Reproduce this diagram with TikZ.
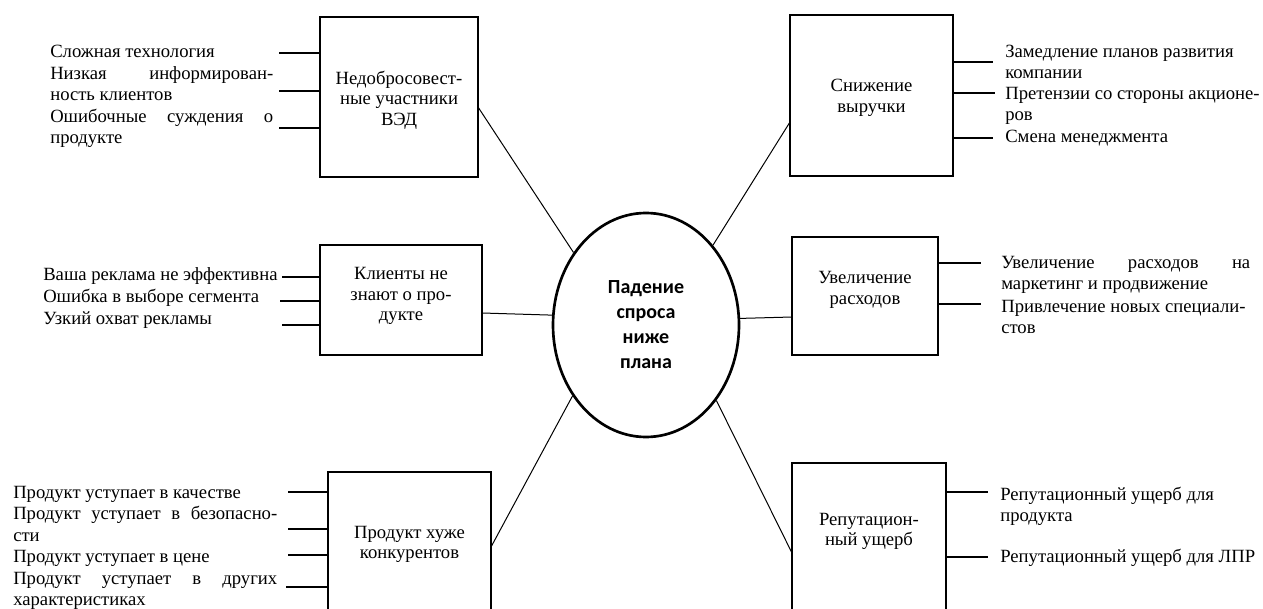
\documentclass[tikz,border=0pt]{standalone}
\usepackage{fontspec}
\setmainfont{Liberation Serif}
\newfontfamily\calib{Carlito}
\usetikzlibrary{shapes.geometric,calc}
\newlength\pxu \setlength\pxu{0.75pt}
\newcommand{\J}[2]{\makebox[#1\pxu][s]{#2}}
\newcommand{\fl}{\rule{0pt}{11pt}}
\newcommand{\boxlbl}[4]{\begin{minipage}[c][#2\pxu][t]{#1\pxu}\centering\vspace*{\dimexpr#3\pxu-10pt\relax}\baselineskip=20.5\pxu\rule{0pt}{10pt}#4\end{minipage}}
\tikzset{
  boxnode/.style={draw, line width=0.9pt, inner sep=0pt, outer sep=0pt},
  itemtext/.style={anchor=north west, inner sep=0pt, align=left},
  stub/.style={line width=0.9pt},
  link/.style={line width=0.75pt}
}
\begin{document}
\begin{tikzpicture}[x=0.75pt, y=-0.75pt, font=\fontsize{14}{16}\selectfont]
\useasboundingbox (0,0) rectangle (1263,609);
\clip (0,0) rectangle (1263,609);

% centre
\node[ellipse, draw, line width=2pt, minimum width=186\pxu, minimum height=224\pxu, inner sep=0pt, align=center,
      font=\calib\bfseries\fontsize{15}{18.75}\selectfont] (ell) at (646,325) {Падение\\спроса\\ниже\\плана};

% boxes
\node[boxnode] (b1) at (399,97) {\boxlbl{158}{160}{67}{Недобросовест-\\ные участники\\ВЭД}};
\node[boxnode] (b2) at (401,300) {\boxlbl{162}{110}{35}{Клиенты не\\знают о про-\\дукте}};
\node[boxnode] (b3) at (409.5,547) {\boxlbl{163}{150}{66}{Продукт хуже\\конкурентов}};
\node[boxnode] (b4) at (871.5,95.5) {\boxlbl{163}{161}{77}{Снижение\\выручки}};
\node[boxnode] (b5) at (865,296) {\boxlbl{146}{118}{47}{Увеличение\\расходов}};
\node[boxnode] (b6) at (869,541.5) {\boxlbl{154}{157}{62}{Репутацион-\\ный ущерб}};

% links to centre
\draw[link] ($(b1.east)+(0,10)$) -- (ell.135.4);
\draw[link] ($(b2.east)+(0,13)$) -- (ell.174);
\draw[link] ($(b3.east)+(0,0)$) -- (ell.224.3);
\draw[link] ($(b4.west)+(0,26.5)$) -- (ell.50.7);
\draw[link] ($(b5.west)+(0,21)$) -- (ell.4.3);
\draw[link] ($(b6.west)+(0,11.5)$) -- (ell.313.5);

% left top items
\node[itemtext] (i11) at (50,42.3) {\fl Сложная технология};
\node[itemtext] (i12) at (50,64.3) {\fl\J{223}{Низкая информирован-}\\ность клиентов};
\node[itemtext] (i13) at (50,107.3) {\fl\J{223}{Ошибочные суждения о}\\продукте};
\coordinate (s11) at (279,53);
\coordinate (s12) at (279,91);
\coordinate (s13) at (279,128);
\draw[stub] (s11) -- (s11 -| b1.west);
\draw[stub] (s12) -- (s12 -| b1.west);
\draw[stub] (s13) -- (s13 -| b1.west);

% left middle items
\node[itemtext] (i21) at (43,265.3) {\fl Ваша реклама не эффективна};
\node[itemtext] (i22) at (43,287.3) {\fl Ошибка в выборе сегмента};
\node[itemtext] (i23) at (43,309.3) {\fl Узкий охват рекламы};
\coordinate (s21) at (282,277);
\coordinate (s22) at (280,301);
\coordinate (s23) at (282,325);
\draw[stub] (s21) -- (s21 -| b2.west);
\draw[stub] (s22) -- (s22 -| b2.west);
\draw[stub] (s23) -- (s23 -| b2.west);

% left bottom items
\node[itemtext] (i31) at (13,483.3) {\fl Продукт уступает в качестве};
\node[itemtext] (i32) at (13,504.8) {\fl\J{264}{Продукт уступает в безопасно-}\\сти};
\node[itemtext] (i33) at (13,547.3) {\fl Продукт уступает в цене};
\node[itemtext] (i34) at (13,569.3) {\fl\J{264}{Продукт уступает в других}\\характеристиках};
\coordinate (s31) at (288,492);
\coordinate (s32) at (288,529);
\coordinate (s33) at (288,555);
\coordinate (s34) at (286,587);
\draw[stub] (s31) -- (s31 -| b3.west);
\draw[stub] (s32) -- (s32 -| b3.west);
\draw[stub] (s33) -- (s33 -| b3.west);
\draw[stub] (s34) -- (s34 -| b3.west);

% right top items
\node[itemtext] (i41) at (1005,42.3) {\fl Замедление планов развития\\компании};
\node[itemtext] (i42) at (1005,84.3) {\fl Претензии со стороны акционе-\\ров};
\node[itemtext] (i43) at (1005,127.3) {\fl Смена менеджмента};
\coordinate (s41) at (993,62);
\coordinate (s42) at (995,93);
\coordinate (s43) at (993,138);
\draw[stub] (s41 -| b4.east) -- (s41);
\draw[stub] (s42 -| b4.east) -- (s42);
\draw[stub] (s43 -| b4.east) -- (s43);

% right middle items
\node[itemtext] (i51) at (1001,253.3) {\fl\J{249}{Увеличение расходов на}\\маркетинг и продвижение};
\node[itemtext] (i52) at (1001,297.3) {\fl Привлечение новых специали-\\стов};
\coordinate (s51) at (981,263);
\coordinate (s52) at (981,304);
\draw[stub] (s51 -| b5.east) -- (s51);
\draw[stub] (s52 -| b5.east) -- (s52);

% right bottom items
\node[itemtext] (i61) at (1000,485.3) {\fl Репутационный ущерб для\\продукта};
\node[itemtext] (i62) at (1000,547.3) {\fl Репутационный ущерб для ЛПР};
\coordinate (s61) at (988,492);
\coordinate (s62) at (988,557);
\draw[stub] (s61 -| b6.east) -- (s61);
\draw[stub] (s62 -| b6.east) -- (s62);
\end{tikzpicture}
\end{document}
